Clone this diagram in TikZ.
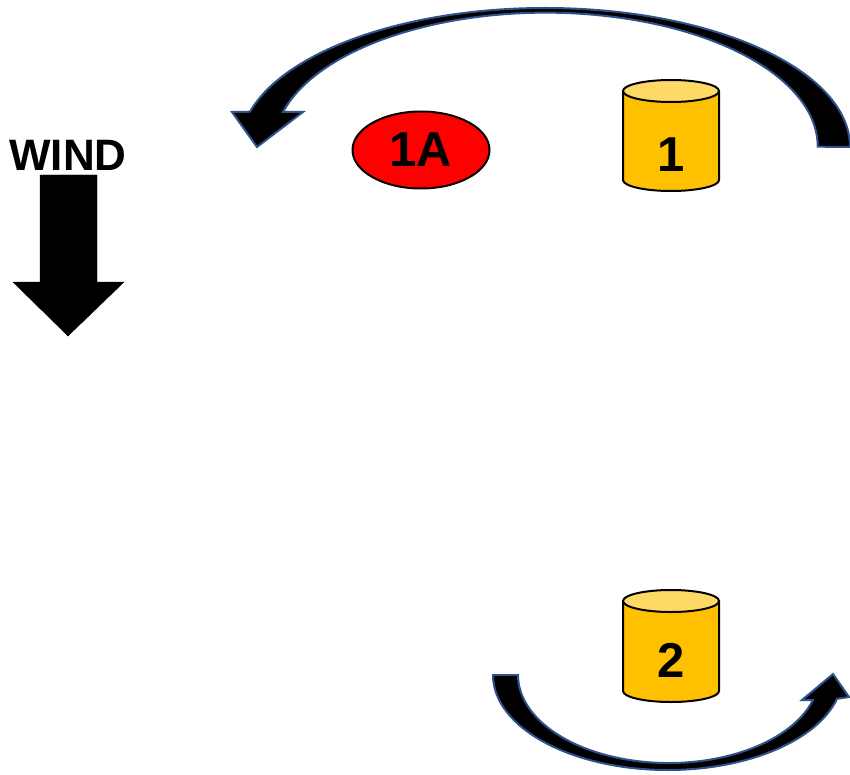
\documentclass[tikz,border=0pt]{standalone}
\usepackage{fontspec}
\setmainfont{Liberation Sans}
\usetikzlibrary{shapes.geometric}
\definecolor{ArrowLine}{RGB}{47,82,143}
\definecolor{CanBody}{RGB}{255,192,0}
\definecolor{CanTop}{RGB}{255,217,102}

\begin{document}
\begin{tikzpicture}[x=1pt,y=-1pt,
  flow/.style={fill=black,draw=ArrowLine,line width=2pt},
  can/.style={fill=CanBody,draw=black,line width=2pt},
  lbl/.style={font=\fontsize{49}{56}\selectfont\bfseries,inner sep=0pt}]
\useasboundingbox (0,0) rectangle (850,775);
\node[font=\fontsize{44}{50}\selectfont\bfseries,inner sep=0pt] (wind) at (68,155) {WIND};
\draw[fill=black] (40,175) -- (97,175) -- (97,282) -- (124,282) -- (68,336) -- (13,282) -- (40,282) -- cycle;
\node[ellipse,draw=black,line width=2pt,fill=red,minimum width=137pt,minimum height=77pt,lbl] (n1A) at (421,150) {1A};
\foreach \n/\t/\b/\l in {1/80/191/155, 2/590/702/660} {
   \draw[can] (623,\t+11) -- (623,\b-11) arc[start angle=180,end angle=0,x radius=48,y radius=11] -- (719,\t+11);
   \draw[can,fill=CanTop] (671,\t+11) ellipse[x radius=48,y radius=11];
   \node[lbl] (can\n) at (671,\l) {\n};
}
\draw[flow] (850,147) arc[start angle=0,end angle=-165.3,x radius=305,y radius=139]
   -- (232,112) -- (257,147) -- (303,112) -- (283,112)
   arc[start angle=-165,end angle=0,x radius=272,y radius=134] -- cycle;
\draw[flow] (493,675) arc[start angle=180,end angle=14.5,x radius=174.8,y radius=95]
   -- (849,697) -- (833,674) -- (802,700) -- (813,700)
   arc[start angle=16.5,end angle=180,x radius=150.6,y radius=88] -- cycle;
\end{tikzpicture}
\end{document}
